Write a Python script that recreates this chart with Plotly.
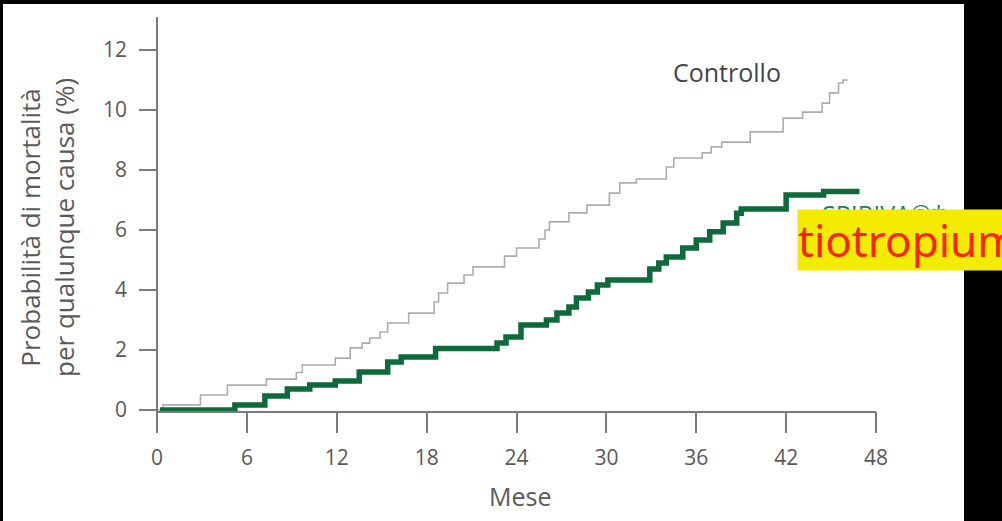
import plotly.graph_objects as go

# Kaplan-Meier style cumulative all-cause mortality (%), step changes by month
controllo_mesi = [0.0, 0.4, 2.9, 4.7, 7.3, 9.3, 9.7, 11.9, 12.9, 13.7, 14.2, 14.9, 15.4,
                  16.8, 18.5, 18.8, 19.4, 20.5, 21.1, 23.2, 24.0, 25.5, 25.9, 26.2,
                  27.5, 28.7, 30.2, 30.9, 32.0, 34.0, 34.5, 36.4, 37.0, 37.7, 39.6,
                  41.8, 43.1, 44.4, 44.9, 45.5, 45.8, 46.1]
controllo_valori = [0.0, 0.17, 0.5, 0.83, 1.03, 1.25, 1.5, 1.73, 2.07, 2.23, 2.4, 2.6, 2.9,
                    3.23, 3.6, 3.9, 4.23, 4.5, 4.77, 5.13, 5.4, 5.7, 6.0, 6.27,
                    6.57, 6.83, 7.23, 7.57, 7.7, 8.1, 8.4, 8.57, 8.77, 8.93, 9.27,
                    9.73, 9.93, 10.23, 10.57, 10.9, 11.0, 11.0]

tiotropium_mesi = [0.2, 5.2, 7.2, 8.7, 10.2, 11.9, 13.5, 15.4, 16.3, 18.6, 22.7, 23.3,
                   24.3, 26.0, 26.7, 27.5, 28.0, 28.8, 29.4, 30.1, 32.9, 33.5, 34.0,
                   35.1, 36.0, 36.9, 37.8, 38.7, 39.0, 42.0, 44.5, 46.9]
tiotropium_valori = [0.0, 0.17, 0.47, 0.7, 0.83, 0.97, 1.27, 1.6, 1.77, 2.05, 2.23, 2.43,
                     2.83, 3.0, 3.23, 3.43, 3.73, 3.93, 4.17, 4.33, 4.7, 4.9, 5.1,
                     5.4, 5.67, 5.94, 6.23, 6.56, 6.7, 7.17, 7.28, 7.28]

x_ticks = [0, 6, 12, 18, 24, 30, 36, 42, 48]
y_ticks = [0, 2, 4, 6, 8, 10, 12]

W, H = 1002, 521
FONT = "Open Sans"
TEXT = "#5a5a5a"
AXIS = "#7a7a7a"


def fx(p):
    return p / W


def fy(p):
    return 1 - p / H


fig = go.Figure()
fig.add_trace(go.Scatter(
    x=controllo_mesi, y=controllo_valori, mode="lines", line_shape="hv",
    line=dict(color="#adadad", width=1.6), showlegend=False, hoverinfo="skip"))
fig.add_trace(go.Scatter(
    x=tiotropium_mesi, y=tiotropium_valori, mode="lines", line_shape="hv",
    line=dict(color="#0d6a3b", width=5.5), showlegend=False, hoverinfo="skip"))

# y: value 0 sits at 410 px, 30 px per unit; plot area spans 17..433 px
y_min = -(433 - 410) / 30
y_max = (410 - 17) / 30


def label(text, x, y, size, color, **kw):
    return dict(text=text, xref="paper", yref="paper", x=fx(x), y=fy(y),
                xanchor=kw.pop("xanchor", "center"), yanchor="middle",
                showarrow=False, font=dict(size=size, color=color,
                                           family=kw.pop("family", FONT)), **kw)


fig.update_layout(
    width=W, height=H,
    margin=dict(l=0, r=0, t=0, b=0, pad=0),
    paper_bgcolor="black",
    plot_bgcolor="rgba(0,0,0,0)",
    font=dict(family=FONT, color=TEXT),
    xaxis=dict(
        domain=[fx(157), fx(876)], range=[0, 48], automargin=False,
        anchor="free", position=fy(411.5),
        showline=True, linecolor=AXIS, linewidth=1.5,
        ticks="outside", ticklen=21, tickwidth=1.5, tickcolor=AXIS,
        tickvals=x_ticks, ticktext=[str(v) for v in x_ticks],
        ticklabelstandoff=7,
        tickfont=dict(size=21, color=TEXT, family=FONT),
        showgrid=False, zeroline=False),
    yaxis=dict(
        domain=[fy(433), fy(17)], range=[y_min, y_max], automargin=False,
        anchor="free", position=fx(157),
        showline=True, linecolor=AXIS, linewidth=1.5,
        ticks="outside", ticklen=17, tickwidth=1.5, tickcolor=AXIS,
        tickvals=y_ticks, ticktext=[str(v) for v in y_ticks],
        ticklabelstandoff=8,
        tickfont=dict(size=21, color=TEXT, family=FONT),
        showgrid=False, zeroline=False),
    shapes=[dict(type="rect", xref="paper", yref="paper",
                 x0=fx(3), x1=fx(964), y0=0, y1=fy(4),
                 fillcolor="white", line=dict(width=0), layer="below")],
    annotations=[
        label("Probabilità di mortalità<br>per qualunque causa (%)", 47, 228, 26, TEXT,
              textangle=-90),
        label("Mese", 520, 496, 25, TEXT),
        label("Controllo", 727, 72, 25, "#444444"),
        label("SPIRIVA®*", 883, 214, 25, "#1f7f5a"),
        label("tiotropium", 797, 240, 44, "#ff2200", xanchor="left",
              family="Noto Sans", bgcolor="#f4ec00", borderpad=0),
    ],
)

fig.write_html("out.html")
